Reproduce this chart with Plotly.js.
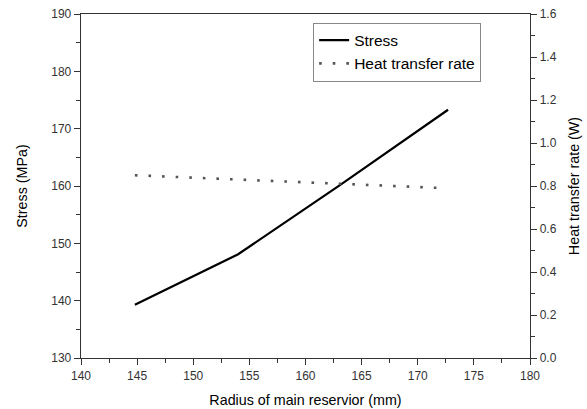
<!DOCTYPE html>
<html>
<head>
<meta charset="utf-8">
<script src="https://cdn.plot.ly/plotly-3.0.1.min.js"></script>
<style>html,body{margin:0;padding:0;background:#fff;}</style>
</head>
<body>
<div id="chart" style="width:587px;height:409px;"></div>
<script>
const radius = [144.8, 154.0, 163.1, 172.7];
const stress = [139.3, 148.1, 160.2, 173.3];
const heatRadius = [144.8, 154.0, 163.1, 172.0];
const heatRate = [0.850, 0.831, 0.812, 0.791];

const traces = [
  {x: radius, y: stress, name: 'Stress', type: 'scatter', mode: 'lines',
   line: {color: '#000', width: 2.2}},
  {x: heatRadius, y: heatRate, name: 'Heat transfer rate', type: 'scatter', mode: 'lines',
   yaxis: 'y2', line: {color: '#555', width: 2.6, dash: '2.6px,11px'}}
];

const tickFont = {family: 'Liberation Sans, Arial, sans-serif', size: 12, color: '#333'};
const titleFont = {family: 'Liberation Sans, Arial, sans-serif', size: 14.3, color: '#000'};

const layout = {
  width: 587, height: 409,
  margin: {l: 81, r: 57, t: 14, b: 51},
  paper_bgcolor: '#fff', plot_bgcolor: '#fff',
  showlegend: true,
  legend: {x: 0.517, y: 0.975, xanchor: 'left', yanchor: 'top',
    bordercolor: '#888', borderwidth: 1, bgcolor: '#fff',
    font: {family: 'Liberation Sans, Arial, sans-serif', size: 15.5, color: '#000'},
    tracegroupgap: 0},
  xaxis: {range: [140, 180], dtick: 5, tick0: 140, showgrid: false, zeroline: false,
    showline: true, linecolor: '#333', linewidth: 1.3, mirror: true,
    ticks: 'outside', ticklen: 6, tickcolor: '#333', tickwidth: 1,
    minor: {dtick: 2.5, ticklen: 4, tickcolor: '#333', ticks: 'outside', showgrid: false},
    tickfont: tickFont,
    title: {text: 'Radius of main reservior (mm)', font: titleFont, standoff: 13}},
  yaxis: {range: [130, 190], dtick: 10, tick0: 130, showgrid: false, zeroline: false,
    showline: true, linecolor: '#333', linewidth: 1.3,
    ticks: 'outside', ticklen: 6, tickcolor: '#333', tickwidth: 1,
    minor: {dtick: 5, ticklen: 4, tickcolor: '#333', ticks: 'outside', showgrid: false},
    tickfont: tickFont,
    title: {text: 'Stress (MPa)', font: titleFont, standoff: 20}},
  yaxis2: {range: [0, 1.6], dtick: 0.2, tick0: 0, overlaying: 'y', side: 'right',
    showgrid: false, zeroline: false, tickformat: '.1f',
    showline: true, linecolor: '#333', linewidth: 1.3,
    ticks: 'outside', ticklen: 6, tickcolor: '#333', tickwidth: 1,
    minor: {dtick: 0.1, ticklen: 4, tickcolor: '#333', ticks: 'outside', showgrid: false},
    tickfont: tickFont,
    title: {text: 'Heat transfer rate (W)', font: titleFont, standoff: 13}}
};

Plotly.newPlot('chart', traces, layout, {displayModeBar: false, staticPlot: true});
</script>
</body>
</html>
